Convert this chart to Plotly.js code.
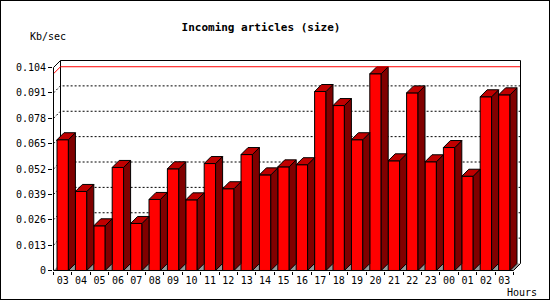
<!DOCTYPE html>
<html><head><meta charset="utf-8">
<script src="https://cdn.plot.ly/plotly-3.0.1.min.js"></script>
<style>
html,body{margin:0;padding:0;background:#fff;}
#chart{width:548px;height:298px;border:1px solid #000;}
</style></head><body><div id="chart"></div>
<script>
// ---------- data ----------
const hours = ["03","04","05","06","07","08","09","10","11","12","13","14","15","16","17","18","19","20","21","22","23","00","01","02","03"];
const sizeKbps = [0.0670,0.0405,0.0229,0.0528,0.0241,0.0364,0.0521,0.0362,0.0548,0.0419,0.0594,0.0490,0.0531,0.0542,0.0917,0.0845,0.0670,0.1008,0.0562,0.0910,0.0557,0.0630,0.0483,0.0890,0.0900];
const yTickValues = [0,0.013,0.026,0.039,0.052,0.065,0.078,0.091,0.104];
const yTickLabels = ["0","0.013","0.026","0.039","0.052","0.065","0.078","0.091","0.104"];
const chartTitle = "Incoming articles (size)";
const yUnitLabel = "Kb/sec";
const xUnitLabel = "Hours";

// ---------- geometry / style ----------
const W = 548, H = 298;
const M = {l:52, r:24, t:56, b:28};
const plotW = W - M.l - M.r, plotH = H - M.t - M.b;
const slotPx = 18.4, yPx = 1951.9, depthPx = 7;
const n = hours.length;
const idx = hours.map((_, i) => i);
const x0 = -0.5 - 0.5 / slotPx, x1 = x0 + plotW / slotPx;
const y0 = -0.5 / yPx, y1 = y0 + plotH / yPx;
const dX = depthPx / slotPx, dY = depthPx / yPx;
const halfW = 0.31;
const frontL = -0.5, frontR = n - 0.5;
const topV = yTickValues[yTickValues.length - 1];
const maxV = Math.max(...sizeKbps);
const px = x => (x - x0) / (x1 - x0);
const py = y => (y - y0) / (y1 - y0);
const pt = (x, y) => px(x).toFixed(5) + ',' + py(y).toFixed(5);
const FONT = 'DejaVu Sans Mono';

// ---------- 3D faces from data ----------
const sideX = [], sideY = [], topX = [], topY = [];
sizeKbps.forEach((v, i) => {
  const xl = i - halfW, xr = i + halfW;
  sideX.push(xr, xr + dX, xr + dX, xr, xr, null);
  sideY.push(0, dY, v + dY, v, 0, null);
  topX.push(xl, xr, xr + dX, xl + dX, xl, null);
  topY.push(v, v, v + dY, v + dY, v, null);
});

const traces = [
  {type:'bar', x: idx, y: sizeKbps, width: 2*halfW,
   marker:{color:'#ff0000', line:{color:'#000', width:1}}, hoverinfo:'skip'},
  {type:'scatter', mode:'lines', x: sideX, y: sideY, fill:'toself', fillcolor:'#800000',
   line:{color:'#000', width:1}, hoverinfo:'skip'},
  {type:'scatter', mode:'lines', x: topX, y: topY, fill:'toself', fillcolor:'#c00000',
   line:{color:'#000', width:1}, hoverinfo:'skip'}
];

// ---------- walls, grid, frame ----------
const shapes = [];
shapes.push({type:'path', xref:'paper', yref:'paper', layer:'below',
  path:'M'+pt(frontL,0)+'L'+pt(frontR,0)+'L'+pt(frontR+dX,dY)+'L'+pt(frontL+dX,dY)+'Z',
  fillcolor:'#999999', line:{width:0}});
yTickValues.forEach(v => {
  if (v === 0 || v === topV) return;
  shapes.push({type:'path', xref:'paper', yref:'paper', layer:'below',
    path:'M'+pt(frontL,v)+'L'+pt(frontL+dX,v+dY)+'L'+pt(frontR+dX,v+dY),
    line:{color:'#000', width:1, dash:'2px,2px'}});
});
shapes.push({type:'path', xref:'paper', yref:'paper', layer:'below',
  path:'M'+pt(frontL+dX,dY)+'L'+pt(frontL+dX,topV+dY),
  line:{color:'#000', width:1}});
shapes.push({type:'path', xref:'paper', yref:'paper', layer:'above',
  path:'M'+pt(frontL,maxV)+'L'+pt(frontL+dX,maxV+dY)+'L'+pt(frontR+dX,maxV+dY),
  line:{color:'#ff0000', width:1}});
shapes.push({type:'path', xref:'paper', yref:'paper', layer:'above',
  path:'M'+pt(frontL,0)+'L'+pt(frontL,topV)+'L'+pt(frontL+dX,topV+dY)+'L'+pt(frontR+dX,topV+dY)+
       'L'+pt(frontR+dX,dY)+'L'+pt(frontR,0)+'Z',
  line:{color:'#000', width:1}});

const paperX = d => (d - M.l) / plotW;
const paperY = d => (H - M.b - d) / plotH;

const layout = {
  width: W, height: H, margin: M,
  paper_bgcolor:'#ffffff', plot_bgcolor:'rgba(0,0,0,0)',
  showlegend:false, hovermode:false, bargap:0,
  title:{text: chartTitle, xref:'container', yref:'container',
         x: 260/W, y: 1 - 25.7/H, xanchor:'center', yanchor:'middle',
         font:{family:FONT, size:11, color:'#000', weight:'bold'}},
  xaxis:{range:[x0,x1], tickmode:'array', tickvals: idx, ticktext: hours, ticks:'',
         ticklabelstandoff: 2,
         showgrid:false, zeroline:false, showline:false,
         tickfont:{family:FONT, size:10, color:'#000'},
         minor:{tickmode:'array', tickvals: idx.concat([n]).map(i => i - 0.5),
                ticks:'outside', ticklen:3, tickcolor:'#000', tickwidth:1, showgrid:false}},
  yaxis:{range:[y0,y1], tickmode:'array', tickvals: yTickValues, ticktext: yTickLabels,
         ticks:'outside', ticklen:4, tickcolor:'#000', tickwidth:1,
         showgrid:false, zeroline:false, showline:false,
         tickfont:{family:FONT, size:10, color:'#000'}},
  shapes: shapes,
  annotations:[
    {text: yUnitLabel, xref:'paper', yref:'paper', x: paperX(27.3), y: paperY(35.7),
     xanchor:'left', yanchor:'middle', showarrow:false, font:{family:FONT, size:10, color:'#000'}},
    {text: xUnitLabel, xref:'paper', yref:'paper', x: paperX(504), y: paperY(291.3),
     xanchor:'left', yanchor:'middle', showarrow:false, font:{family:FONT, size:10, color:'#000'}}
  ]
};

Plotly.newPlot('chart', traces, layout, {displayModeBar:false, staticPlot:true});
</script></body></html>
